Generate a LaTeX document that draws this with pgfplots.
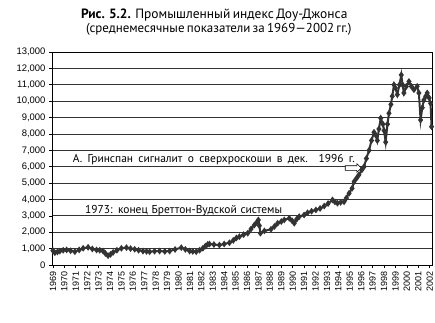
\documentclass[border=0pt]{standalone}
\usepackage{pgfplots}
\pgfplotsset{compat=1.18}
\usepackage{fontspec}
\setmainfont{Liberation Sans}
\newfontfamily\ptsans{PT Sans}
\usetikzlibrary{shapes.arrows}
\definecolor{curve}{rgb}{0.2,0.2,0.2}
\begin{document}
\begin{tikzpicture}
\useasboundingbox (0,0) rectangle (435bp,323bp);
\node[font=\ptsans\fontsize{13.5}{15}\selectfont, inner sep=0pt] at (214bp,308bp) {\makebox[266bp][s]{\textbf{Рис. 5.2.} Промышленный индекс Доу-Джонса}};
\node[font=\ptsans\fontsize{13}{15}\selectfont, inner sep=0pt] at (214.5bp,294bp) {\makebox[257bp][s]{(среднемесячные показатели за 1969—2002 гг.)}};
\begin{axis}[
  at={(52bp,58bp)}, anchor=south west,
  scale only axis, width=380bp, height=213bp,
  xmin=1968.92, xmax=2002.2, ymin=0, ymax=13000,
  xtick={1969,...,2002}, ytick={0,1000,...,13000},
  scaled y ticks=false,
  ymajorgrids,
  grid style={black!80, line width=0.7pt},
  axis line style={black, line width=0.8pt},
  tick style={black, line width=0.6pt},
  tick align=outside, major tick length=3bp,
  xtick pos=left, ytick pos=left,
  x tick label style={rotate=90, anchor=east, font=\fontsize{9}{9}\selectfont, /pgf/number format/1000 sep={}},
  y tick label style={font=\fontsize{9.5}{10}\selectfont, /pgf/number format/1000 sep={,}},
  /pgf/number format/assume math mode=true,
]
\addplot[color=curve, line width=2pt, mark=diamond*, mark size=1.8pt, mark options={solid, fill=curve}] coordinates {
(1969.00,880) (1969.17,750) (1969.40,800) (1969.61,850) (1969.90,900)
(1970.20,920) (1970.55,870) (1970.92,810) (1971.30,920) (1971.65,1020)
(1972.08,1080) (1972.45,980) (1972.82,920) (1973.10,900) (1973.39,850)
(1973.60,700) (1973.83,570) (1974.05,650) (1974.27,770) (1974.60,900)
(1975.00,1020) (1975.44,1060) (1975.80,1000) (1976.16,960) (1976.50,900)
(1976.89,850) (1977.20,830) (1977.47,810) (1977.90,840) (1978.34,850)
(1978.80,830) (1979.22,850) (1979.70,950) (1980.24,1060) (1980.60,950)
(1980.97,850) (1981.25,830) (1981.55,810) (1981.85,900) (1982.13,1020)
(1982.35,1150) (1982.56,1260) (1982.71,1280) (1983.10,1250) (1983.58,1220)
(1984.00,1280) (1984.46,1360) (1984.80,1500) (1985.07,1650) (1985.33,1730)
(1985.70,1850) (1986.06,1940) (1986.35,2200) (1986.64,2440) (1986.85,2600)
(1986.99,2750) (1987.08,2400) (1987.17,1940) (1987.52,2080) (1988.10,2180)
(1988.40,2350) (1988.68,2550) (1989.00,2650) (1989.26,2750) (1989.70,2850)
(1989.95,2700) (1990.14,2550) (1990.35,2800) (1990.57,2950) (1991.00,3050)
(1991.30,3190) (1991.65,3280) (1992.03,3360) (1992.40,3450) (1992.76,3600)
(1993.10,3750) (1993.48,3970) (1993.70,3850) (1993.92,3770) (1994.20,3820)
(1994.50,3860) (1994.70,4090) (1994.94,4380) (1995.20,4680) (1995.38,5090)
(1995.60,5300) (1995.80,5500) (1996.05,5800) (1996.25,6000) (1996.45,6500)
(1996.69,7000) (1996.90,7600) (1997.12,8100) (1997.30,7900) (1997.41,7600)
(1997.55,8300) (1997.71,8960) (1997.90,8600) (1998.00,8200) (1998.14,7500)
(1998.30,8600) (1998.43,9260) (1998.60,9800) (1998.72,10300) (1998.87,11000)
(1999.00,10800) (1999.16,10400) (1999.35,11000) (1999.51,11600) (1999.62,11000)
(1999.74,10500) (1999.95,10900) (2000.18,11200) (2000.40,10900) (2000.62,10700)
(2000.90,10900) (2001.05,10500) (2001.20,8850) (2001.35,9600) (2001.49,10070)
(2001.65,10300) (2001.78,10500) (2001.95,10200) (2002.07,9870) (2002.16,8440)
};
\node[anchor=west, inner sep=0pt, font=\ptsans\fontsize{11.5}{13}\selectfont] at (axis cs:1970.72,6450) {\makebox[282bp][s]{А. Гринспан сигналит о сверхроскоши в дек. 1996 г.}};
\node[anchor=west, inner sep=0pt, font=\ptsans\fontsize{11.5}{13}\selectfont] at (axis cs:1971.8,3300) {\makebox[197bp][s]{1973: конец Бреттон-Вудской системы}};
\node[single arrow, draw=black, fill=white, line width=0.6pt, minimum height=16bp, inner xsep=0pt, inner ysep=2bp, single arrow head extend=2bp] at (axis cs:1995.2,5920) {};
\end{axis}
\end{tikzpicture}
\end{document}
